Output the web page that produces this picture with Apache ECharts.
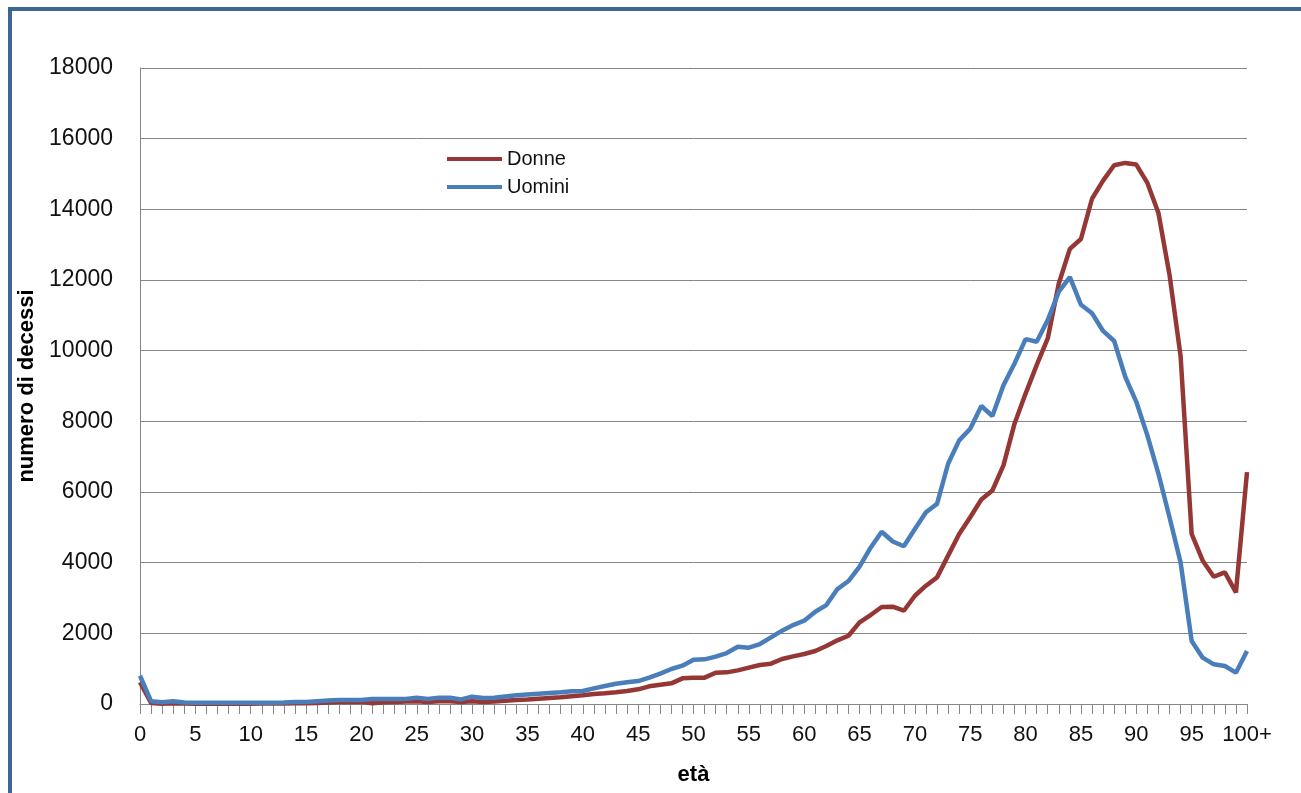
<!DOCTYPE html>
<html>
<head>
<meta charset="utf-8">
<script src="https://cdn.jsdelivr.net/npm/echarts@6/dist/echarts.min.js"></script>
<style>html,body{margin:0;padding:0;background:#fff}#c{width:1301px;height:793px}</style>
</head>
<body>
<div id="c"></div>
<script>
const ages = [];
for (let a = 0; a < 100; a++) ages.push(String(a));
ages.push('100+');

const donne = [
  620, 30, 10, 20, 15, 10, 10, 10, 10, 10,
  10, 15, 15, 15, 20, 20, 30, 40, 60, 60,
  60, 20, 50, 60, 70, 80, 60, 80, 80, 60,
  80, 60, 70, 90, 110, 125, 151, 170, 189, 217,
  245, 283, 302, 330, 368, 415, 500, 547, 585, 726,
  745, 745, 886, 896, 952, 1028, 1103, 1141, 1273, 1348,
  1415, 1499, 1641, 1801, 1933, 2310, 2518, 2744, 2754, 2640,
  3064, 3348, 3584, 4199, 4813, 5286, 5787, 6043, 6752, 7934,
  8785, 9589, 10345, 11900, 12880, 13160, 14300, 14813, 15248, 15314,
  15267, 14747, 13896, 12147, 9850, 4812, 4055, 3601, 3724, 3157,
  6562
];

const uomini = [
  800, 80, 50, 80, 40, 35, 35, 35, 35, 35,
  35, 35, 35, 40, 60, 60, 80, 100, 113, 113,
  113, 140, 140, 140, 140, 180, 140, 180, 180, 130,
  207, 170, 180, 215, 245, 270, 292, 311, 330, 358,
  368, 443, 509, 575, 613, 650, 745, 858, 990, 1085,
  1254, 1264, 1340, 1443, 1622, 1594, 1697, 1886, 2075, 2235,
  2357, 2612, 2800, 3253, 3480, 3885, 4423, 4875, 4600, 4464,
  4955, 5428, 5665, 6799, 7461, 7792, 8435, 8151, 9021, 9636,
  10326, 10251, 10865, 11669, 12080, 11300, 11059, 10558, 10274, 9262,
  8553, 7603, 6515, 5285, 4008, 1785, 1312, 1123, 1075, 886,
  1501
];

const yTicks = [0, 2000, 4000, 6000, 8000, 10000, 12000, 14000, 16000, 18000];

const chart = echarts.init(document.getElementById('c'));
const font = '"Liberation Sans", Arial, sans-serif';
chart.setOption({
  animation: false,
  backgroundColor: '#ffffff',
  graphic: [{
    type: 'rect',
    shape: { x: 10, y: 9, width: 1400, height: 900 },
    style: { fill: 'none', stroke: '#3f6595', lineWidth: 4 },
    silent: true
  }],
  grid: { left: 140, right: 54, top: 68, bottom: 89, containLabel: false },
  legend: {
    orient: 'vertical',
    left: 447,
    top: 149,
    padding: 0,
    itemWidth: 55,
    itemHeight: 4,
    itemGap: 8,
    icon: 'rect',
    data: ['Donne', 'Uomini'],
    textStyle: { fontFamily: font, fontSize: 20, color: '#111', lineHeight: 20 }
  },
  xAxis: {
    type: 'category',
    data: ages,
    boundaryGap: false,
    name: 'età',
    nameLocation: 'middle',
    nameGap: 60,
    nameTextStyle: { fontFamily: font, fontSize: 22, fontWeight: 'bold', color: '#000' },
    axisLine: { lineStyle: { color: '#868686', width: 1 } },
    axisTick: { show: true, interval: 0, length: 10, lineStyle: { color: '#868686' } },
    axisLabel: { interval: 4, fontFamily: font, fontSize: 22, color: '#111', margin: 20 },
    splitLine: { show: false }
  },
  yAxis: {
    type: 'value',
    min: 0,
    max: 18000,
    interval: 2000,
    name: 'numero di decessi',
    nameLocation: 'middle',
    nameGap: 89,
    nameRotate: 90,
    nameTextStyle: { fontFamily: font, fontSize: 22, fontWeight: 'bold', color: '#000' },
    axisLine: { show: true, lineStyle: { color: '#868686', width: 1 } },
    axisTick: { show: false },
    axisLabel: {
      fontFamily: font, fontSize: 23, color: '#111', margin: 27,
      formatter: v => yTicks.includes(v) ? String(v) : ''
    },
    splitLine: { show: true, lineStyle: { color: '#868686', width: 1 } }
  },
  series: [
    {
      name: 'Donne', type: 'line', data: donne, showSymbol: false, symbol: 'none',
      lineStyle: { color: '#953735', width: 4.5 }, itemStyle: { color: '#953735' }
    },
    {
      name: 'Uomini', type: 'line', data: uomini, showSymbol: false, symbol: 'none',
      lineStyle: { color: '#4a7ebb', width: 4.5 }, itemStyle: { color: '#4a7ebb' }
    }
  ]
});
</script>
</body>
</html>
